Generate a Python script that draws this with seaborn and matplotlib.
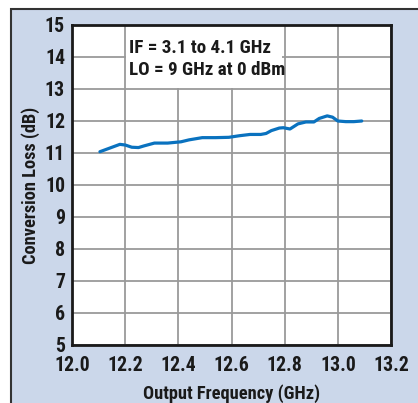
import matplotlib
matplotlib.use("Agg")
import matplotlib.pyplot as plt
import seaborn as sns
import pandas as pd
from matplotlib.patches import Rectangle
from matplotlib import font_manager

freq_ghz = [12.105, 12.18, 12.20, 12.225, 12.25, 12.27, 12.31, 12.36, 12.41, 12.44,
            12.49, 12.54, 12.59, 12.63, 12.67, 12.71, 12.73, 12.75, 12.78, 12.795,
            12.82, 12.85, 12.88, 12.91, 12.93, 12.96, 12.98, 13.00, 13.03, 13.06, 13.09]
loss_db = [11.04, 11.27, 11.25, 11.18, 11.17, 11.22, 11.31, 11.31, 11.35, 11.41,
           11.48, 11.48, 11.49, 11.54, 11.58, 11.58, 11.61, 11.70, 11.78, 11.79,
           11.75, 11.91, 11.97, 11.97, 12.08, 12.16, 12.12, 12.00, 11.98, 11.98, 12.00]
x_ticks = [12.0, 12.2, 12.4, 12.6, 12.8, 13.0, 13.2]
y_ticks = [5, 6, 7, 8, 9, 10, 11, 12, 13, 14, 15]
annotation = "IF = 3.1 to 4.1 GHz\nLO = 9 GHz at 0 dBm"

sns.set_style("white")
installed = {f.name for f in font_manager.fontManager.ttflist}
condensed = [n for n in ["Roboto Condensed", "Liberation Sans Narrow", "Open Sans Condensed",
                         "DejaVu Sans Condensed"] if n in installed]
if condensed:
    FONT = [condensed[0], "DejaVu Sans"]
    FS = 13.2 if condensed[0] != "DejaVu Sans Condensed" else 12
else:
    FONT = ["Liberation Sans", "DejaVu Sans"]
    FS = 11
plt.rcParams["font.family"] = FONT

BG = "#cbd7ea"
DARK = "#1a1a1a"
fig = plt.figure(figsize=(4.18, 4.03), dpi=100, facecolor="white")
fig.patches.append(Rectangle((11 / 418, -0.1), 1.2, 1.1 - 9 / 403, transform=fig.transFigure,
                             facecolor=BG, edgecolor="#333333", linewidth=1.5, zorder=-10))
ax = fig.add_axes([72 / 418, 1 - 345 / 403, (391 - 72) / 418, (345 - 25) / 403])
ax.set_facecolor("white")

df = pd.DataFrame({"freq": freq_ghz, "loss": loss_db})
sns.lineplot(data=df, x="freq", y="loss", ax=ax, color="#0a72bf", linewidth=2.3, zorder=5)

ax.set_xlim(12.0, 13.2)
ax.set_ylim(5, 15)
ax.set_xticks(x_ticks)
ax.set_xticklabels([f"{t:.1f}" for t in x_ticks])
ax.set_yticks(y_ticks)
ax.set_yticklabels([str(t) for t in y_ticks])
ax.grid(True, color="#9a9a9a", linewidth=1.3)
ax.set_axisbelow(True)
for s in ax.spines.values():
    s.set_color(DARK)
    s.set_linewidth(2)
ax.tick_params(axis="x", length=0, pad=8, labelsize=FS + 1)
ax.tick_params(axis="y", length=0, pad=5, labelsize=FS + 1)
for lab in ax.get_xticklabels() + ax.get_yticklabels():
    lab.set_fontweight("bold")
    lab.set_color(DARK)

ax.set_xlabel("Output Frequency (GHz)", fontsize=FS, fontweight="bold", color=DARK)
ax.set_ylabel("Conversion Loss (dB)", fontsize=FS, fontweight="bold", color=DARK)
ax.xaxis.set_label_coords(0.5, -0.123)
ax.yaxis.set_label_coords(-0.10, 0.5)

ax.add_patch(Rectangle((12.203, 13.03), 0.587, 1.97, facecolor="white", edgecolor="none", zorder=2))
ax.text(12.215, 14.28, annotation.split("\n")[0], fontsize=FS + 0.5, fontweight="bold", color=DARK,
        va="center", ha="left", zorder=3)
ax.text(12.215, 13.59, annotation.split("\n")[1], fontsize=FS + 0.5, fontweight="bold", color=DARK,
        va="center", ha="left", zorder=3)

fig.savefig("out.png", dpi=100, facecolor=fig.get_facecolor())
